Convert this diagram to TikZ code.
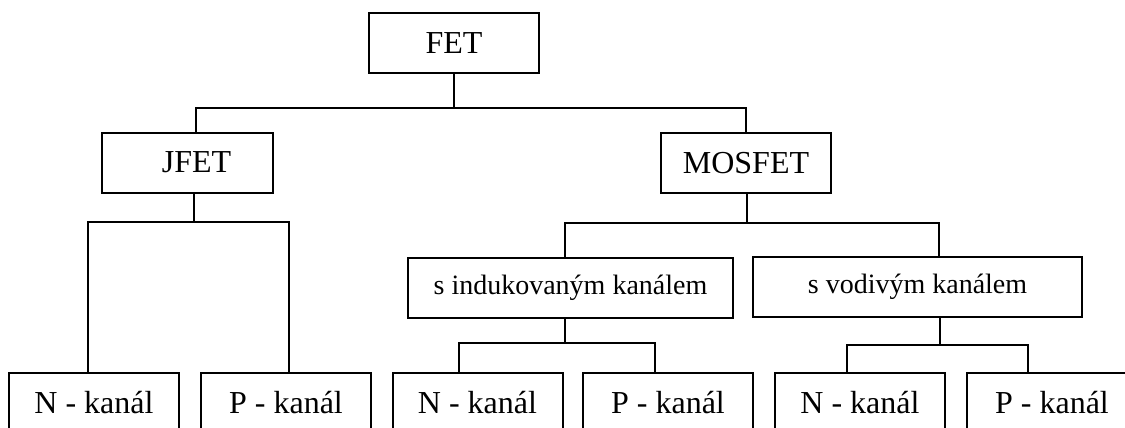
\documentclass[tikz,border=0pt]{standalone}
\usepackage{fontspec}
\setmainfont{Liberation Serif}
\begin{document}
\begin{tikzpicture}[x=1pt,y=-1pt,
  box/.style={draw=black,line width=2pt,rectangle,inner sep=0pt,outer sep=0pt,
    minimum height=60pt,font=\fontsize{32}{38}\selectfont},
  midbox/.style={box,font=\fontsize{28}{34}\selectfont},
  conn/.style={draw=black,line width=2pt}]
\useasboundingbox (0,0) rectangle (1125,428);
\clip (0,0) rectangle (1125,428);
\fill[white] (0,0) rectangle (1125,428);
% nodes
\node[box,minimum width=170pt] (FET) at (454,43) {FET};
\node[box,minimum width=171pt] (JFET) at (187.5,162.5) {\hspace{18pt}JFET};
\node[box,minimum width=170pt] (MOSFET) at (746,163) {MOSFET};
\node[midbox,minimum width=325pt] (IND) at (570.5,287.5) {s indukovaným kanálem};
\node[midbox,minimum width=329pt] (VOD) at (917.5,286.5) {s vodivým kanálem};
\node[box,minimum width=170pt] (B1) at (94,403) {N - kanál};
\node[box,minimum width=170pt] (B2) at (286,403) {P - kanál};
\node[box,minimum width=170pt] (B3) at (477.5,403) {N - kanál};
\node[box,minimum width=170pt] (B4) at (668,403) {P - kanál};
\node[box,minimum width=170pt] (B5) at (860,403) {N - kanál};
\node[box,minimum width=170pt] (B6) at (1052,403) {P - kanál};
% junctions
\coordinate (j1) at (454,108);
\coordinate (j2) at (194,222);
\coordinate (j3) at (747,223);
\coordinate (j4) at (565,343);
\coordinate (j5) at (940,345);
% connectors
\draw[conn] (FET.south) -- (j1);
\draw[conn] ([xshift=8.5pt]JFET.north) |- (j1) -| (MOSFET.north);
\draw[conn] ([xshift=6.5pt]JFET.south) -- (j2);
\draw[conn] ([xshift=-6pt]B1.north) |- (j2) -| ([xshift=3pt]B2.north);
\draw[conn] ([xshift=1pt]MOSFET.south) -- (j3);
\draw[conn] ([xshift=-5.5pt]IND.north) |- (j3) -| ([xshift=21.5pt]VOD.north);
\draw[conn] ([xshift=-5.5pt]IND.south) -- (j4);
\draw[conn] ([xshift=-18.5pt]B3.north) |- (j4) -| ([xshift=-13pt]B4.north);
\draw[conn] ([xshift=22.5pt]VOD.south) -- (j5);
\draw[conn] ([xshift=-13pt]B5.north) |- (j5) -| ([xshift=-24pt]B6.north);
\end{tikzpicture}
\end{document}
